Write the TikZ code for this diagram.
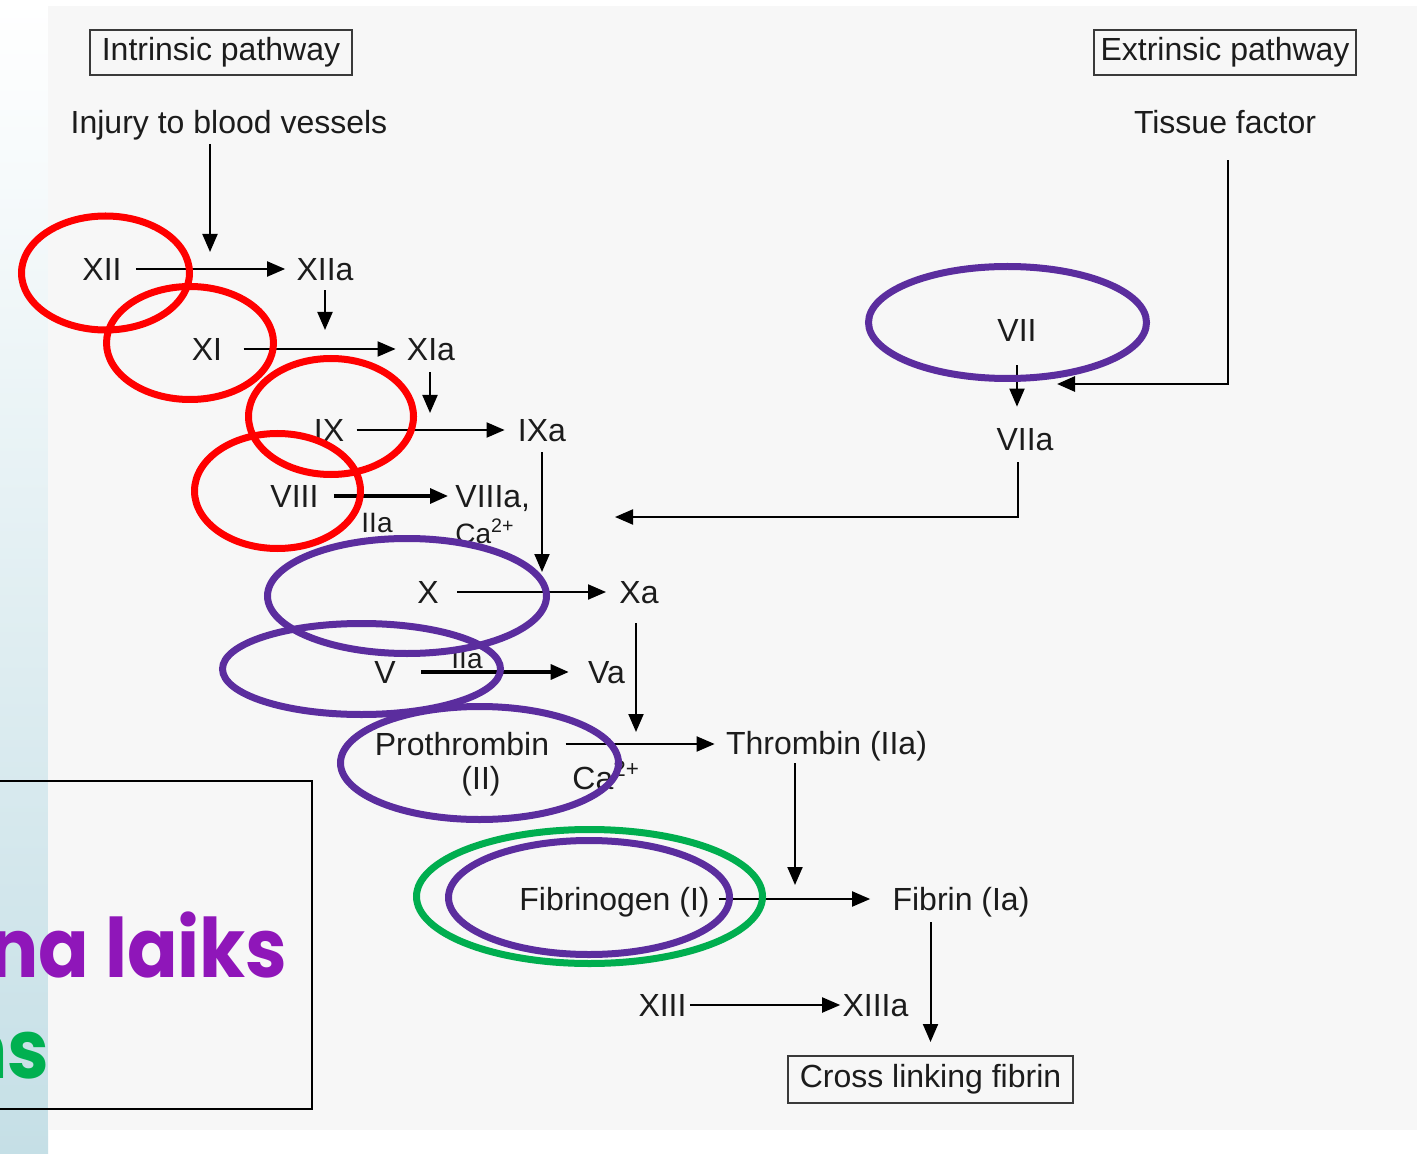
\documentclass[tikz,border=0pt]{standalone}
\usepackage{fontspec}
\setmainfont{Liberation Sans}
\newfontfamily\popfont{Poppins}
\usetikzlibrary{arrows.meta}
\definecolor{panel}{HTML}{F7F7F7}
\definecolor{stripblue}{HTML}{C5DFE6}
\definecolor{ink}{HTML}{1C1C1C}
\definecolor{boxline}{HTML}{3A3A3A}
\definecolor{ellred}{HTML}{FF0000}
\definecolor{ellpurple}{HTML}{5B2D9E}
\definecolor{ellgreen}{HTML}{00AE4F}
\definecolor{laikspurple}{HTML}{8F16B9}
\definecolor{nsgreen}{HTML}{00B050}
\begin{document}
\begin{tikzpicture}[x=0.5pt,y=-0.5pt,
  fac/.style={inner sep=0pt,text height=11.46pt,text depth=0pt,font=\fontsize{16}{19}\selectfont,text=ink},
  sml/.style={inner sep=0pt,text height=10.02pt,text depth=0pt,font=\fontsize{14}{17}\selectfont,text=ink},
  pbox/.style={draw=boxline,line width=1pt,inner sep=0pt,minimum width=131pt,minimum height=22.5pt,font=\fontsize{16}{19}\selectfont,text=ink},
  arr/.style={draw=black,line width=1pt,-{Triangle[length=9pt,width=7.5pt]}},
  arrb/.style={arr,line width=1.6pt},
  arrt/.style={arr,line width=1.4pt},
  redell/.style={draw=ellred,line width=3.5pt},
  purell/.style={draw=ellpurple,line width=3.5pt},
  grnell/.style={draw=ellgreen,line width=3.5pt},
  bigtxt/.style={inner sep=0pt,anchor=base east,font=\popfont\bfseries\fontsize{41}{48}\selectfont}
]
\useasboundingbox (0,0) rectangle (1417,1154);
\clip (0,0) rectangle (1417,1154);
% background
\fill[white] (0,0) rectangle (1417,1154);
\shade[top color=white,bottom color=stripblue] (0,0) rectangle (48,1154);
\fill[panel] (48,6) rectangle (1417,1130);

% bottom-left box and text
\draw[line width=1pt,black] (-5,781) -- (312,781) -- (312,1109) -- (-5,1109);
\node[bigtxt,text=laikspurple] (laiks) at (288,977) {\scalebox{0.91}[1]{na laiks}};
\node[bigtxt,text=nsgreen] (ns) at (50,1078) {\scalebox{0.91}[1]{ns}};

% header boxes
\node[pbox] (intr) at (221,52.5) {Intrinsic pathway};
\node[pbox] (extr) at (1225,52.5) {Extrinsic pathway};
\node[fac] (inj) at (229,122) {Injury to blood vessels};
\node[fac] (tf) at (1225,122) {Tissue factor};

% factors
\node[fac] (XII) at (102,269) {XII};
\node[fac] (XIIa) at (325,269) {XIIa};
\node[fac] (XI) at (207,349) {XI};
\node[fac] (XIa) at (431,349) {XIa};
\node[fac] (IX) at (329,430) {IX};
\node[fac] (IXa) at (542,430) {IXa};
\node[fac] (VIII) at (294.5,496) {VIII};
\node[fac,anchor=west] (VIIIa) at (455,496) {VIIIa,};
\node[sml] (IIa1) at (377,522) {IIa};
\node[sml,anchor=west] (Ca1) at (455,533) {Ca\textsuperscript{2+}};
\node[fac] (X) at (428,592) {X};
\node[fac] (Xa) at (639,592) {Xa};
\node[fac] (V) at (385,672) {V};
\node[sml] (IIa2) at (467,658) {IIa};
\node[fac] (Va) at (606.5,672) {Va};
\node[fac] (Pro) at (462,744) {Prothrombin};
\node[fac] (PII) at (481,778) {(II)};
\node[fac,anchor=west] (Ca2) at (572,778) {Ca\textsuperscript{2+}};
\node[fac] (Thr) at (826.5,743) {Thrombin (IIa)};
\node[fac] (Fib) at (614.5,899) {Fibrinogen (I)};
\node[fac] (Fibr) at (961,899) {Fibrin (Ia)};
\node[fac] (XIII) at (662.5,1005) {XIII};
\node[fac] (XIIIa) at (875.5,1005) {XIIIa};
\node[pbox,minimum width=142.5pt,minimum height=23.5pt] (cross) at (930.5,1079.5) {Cross linking fibrin};
\node[fac] (VII) at (1017,330) {VII};
\node[fac] (VIIa) at (1025,439) {VIIa};

% connectors
\coordinate (j1) at (210,252);
\draw[arr,shorten <=5pt] (inj.south -| j1) -- (j1);
\draw[arr,shorten <=7pt,shorten >=5.5pt] (XII.east) -- (XIIa.west);
\coordinate (j2) at (325,330);
\draw[arr,shorten <=4.75pt] (XIIa.south) -- (j2);
\draw[arr,shorten <=10.5pt,shorten >=5.5pt] (XI.east) -- (XIa.west);
\coordinate (j3) at (430,413);
\draw[arr,shorten <=5.75pt] (XIa.south -| j3) -- (j3);
\draw[arr,shorten <=6pt,shorten >=6.5pt] (IX.east) -- (IXa.west);
\coordinate (j4) at (542,572);
\draw[arr,shorten <=5.25pt] (IXa.south -| j4) -- (j4);
\draw[arrb,shorten <=7.5pt,shorten >=3.5pt] (VIII.east) -- (VIIIa.west);
\draw[arr,shorten <=9pt,shorten >=6.5pt] (X.east) -- (Xa.west);
\coordinate (j5) at (636,732);
\draw[arr,shorten <=9.75pt] (Xa.south -| j5) -- (j5);
\draw[arrb,shorten <=12.5pt,shorten >=9.5pt] (V.east) -- (Va.west);
\draw[arr,shorten <=8pt,shorten >=5.5pt] (Pro.east) -- (Pro.east -| Thr.west);
\coordinate (j6) at (795,885);
\draw[arr,shorten <=4.25pt] (Thr.south -| j6) -- (j6);
\draw[arr,shorten <=4.5pt,shorten >=11pt] (Fib.east) -- (Fibr.west);
\draw[arr,shorten <=5.75pt,shorten >=6.5pt] (Fibr.south -| cross.north) -- (cross.north);
\draw[arr,shorten <=1.5pt,shorten >=1pt] (XIII.east) -- (XIIIa.west);
\coordinate (tfc) at (1228,384);
\coordinate (j7) at (1057,384);
\draw[arrt,shorten <=13.25pt] (tf.south -| tfc) -- (tfc) -- (j7);
\draw[arr,shorten <=11.75pt,shorten >=10.25pt] (VII.south) -- (VII.south |- VIIa.north);
\coordinate (vc) at (1018,517);
\coordinate (j8) at (615,517);
\draw[arr,shorten <=5.75pt] (VIIa.south -| vc) -- (vc) -- (j8);

% highlight ellipses
\draw[redell] (105.5,273) ellipse [x radius=42pt,y radius=28.5pt];
\draw[redell] (190,343) ellipse [x radius=41.75pt,y radius=28.25pt];
\draw[redell] (331,416.5) ellipse [x radius=41.25pt,y radius=29pt];
\draw[redell] (277.5,491) ellipse [x radius=41.5pt,y radius=28.75pt];
\draw[purell] (407,596) ellipse [x radius=69.75pt,y radius=28.75pt];
\draw[purell] (361.5,669) ellipse [x radius=69.5pt,y radius=22.75pt];
\draw[purell] (479.5,763) ellipse [x radius=69.5pt,y radius=28.25pt];
\draw[purell] (589,897.5) ellipse [x radius=70.25pt,y radius=28.5pt];
\draw[grnell] (589.5,896.5) ellipse [x radius=86.5pt,y radius=33.5pt];
\draw[purell] (1007.5,322.5) ellipse [x radius=69.5pt,y radius=28pt];
\end{tikzpicture}
\end{document}
